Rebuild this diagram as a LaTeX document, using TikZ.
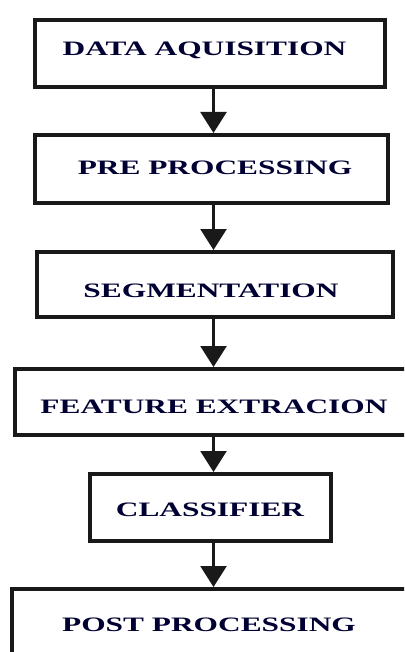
\documentclass[tikz,border=0pt]{standalone}
\usepackage{fontspec}
\setmainfont{Liberation Serif}
\usetikzlibrary{arrows.meta}
\newcommand{\widetext}[1]{\scalebox{1.53}[1]{#1}}
\tikzset{
  box/.style={draw=black!90, line width=4pt, rectangle, inner sep=0pt},
  lbl/.style={anchor=base, inner sep=0pt, text=black!80!blue, font=\fontsize{20.5pt}{22pt}\selectfont\bfseries},
  flow/.style={draw=black!90, line width=2.5pt, -{Triangle[width=26pt,length=21pt]}}
}
\begin{document}
\begin{tikzpicture}[x=1pt,y=1pt]
\useasboundingbox (0,0) rectangle (404,-652);
\clip (0,0) rectangle (404,-652);
\fill[white] (0,0) rectangle (404,-652);
\coordinate (ax) at (213.5,0);
\node[box, minimum width=350pt, minimum height=67pt] (b1) at (210,-53.5) {};
\node[box, minimum width=353pt, minimum height=68pt] (b2) at (211.5,-169) {};
\node[box, minimum width=356pt, minimum height=65pt] (b3) at (215,-284.5) {};
\node[box, minimum width=410pt, minimum height=66pt] (b4) at (220,-402) {};
\node[box, minimum width=241pt, minimum height=67pt] (b5) at (210.5,-507.5) {};
\node[box, minimum width=413pt, minimum height=91pt] (b6) at (218.5,-634.5) {};
\node[lbl] (t1) at (204.5,-55.5) {\widetext{DATA AQUISITION}};
\node[lbl] (t2) at (215,-175) {\widetext{PRE PROCESSING}};
\node[lbl] (t3) at (211,-297) {\widetext{SEGMENTATION}};
\node[lbl] (t4) at (214,-413) {\widetext{FEATURE EXTRACION}};
\node[lbl] (t5) at (210,-516) {\widetext{CLASSIFIER}};
\node[lbl] (t6) at (209,-631) {\widetext{POST PROCESSING}};
\draw[flow] (b1.south -| ax) -- (b2.north -| ax);
\draw[flow] (b2.south -| ax) -- (b3.north -| ax);
\draw[flow] (b3.south -| ax) -- (b4.north -| ax);
\draw[flow] (b4.south -| ax) -- (b5.north -| ax);
\draw[flow] (b5.south -| ax) -- (b6.north -| ax);
\end{tikzpicture}
\end{document}
